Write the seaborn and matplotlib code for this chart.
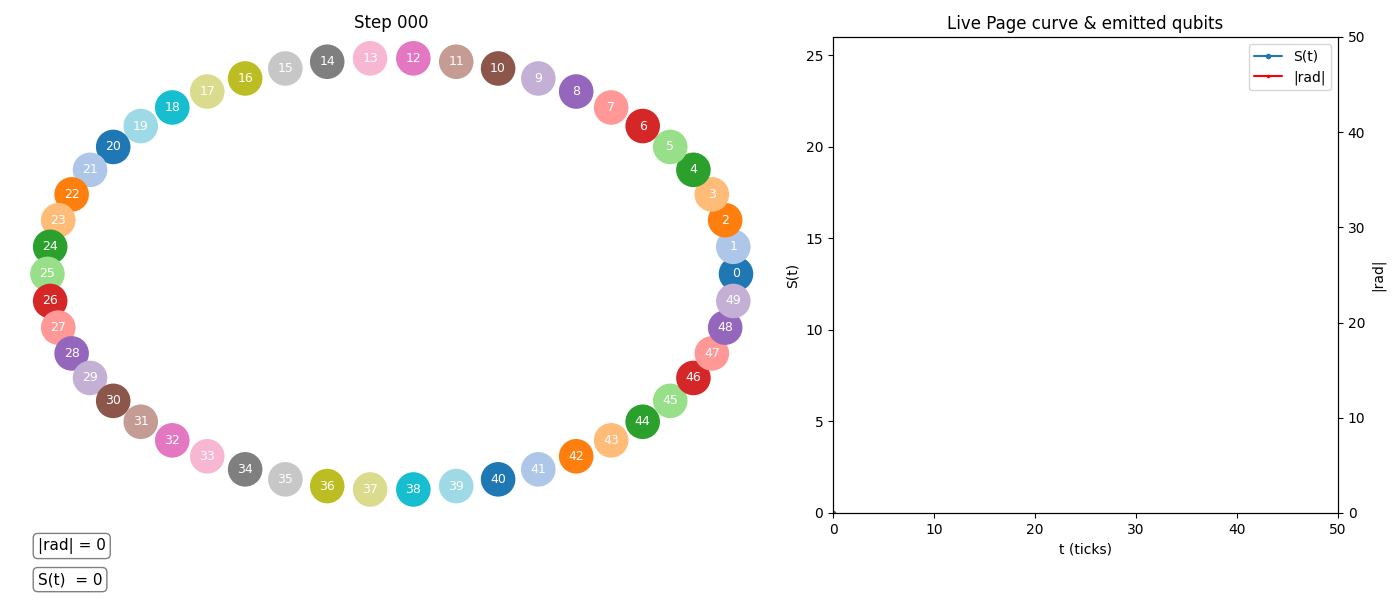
import numpy as np
import pandas as pd
import matplotlib
matplotlib.use("Agg")
import matplotlib.pyplot as plt
import seaborn as sns

# ring of qubits
n_qubits = 50
qubit_ids = list(range(n_qubits))

# live curves at step 0
t_ticks = [0]
entropy = [0]
rad_size = [0]

step = 0
t_max = 50
s_max = 26
rad_max = 50

sns.set_style("ticks", rc={
    "text.color": "black", "axes.labelcolor": "black",
    "xtick.color": "black", "ytick.color": "black",
    "axes.edgecolor": "black",
})
plt.rcParams['font.family'] = ['DejaVu Sans']

fig = plt.figure(figsize=(14, 6), dpi=100)
ax_ring = fig.add_axes([0.0093, 0.1475, 0.541, 0.792])
ax_page = fig.add_axes([0.595, 0.145, 0.3607, 0.7935])

# --- ring of qubits
theta = 2 * np.pi * np.array(qubit_ids) / n_qubits
ring = pd.DataFrame({"x": np.cos(theta), "y": np.sin(theta), "q": qubit_ids})
colors = [plt.cm.tab20(i % 20) for i in qubit_ids]
sns.scatterplot(data=ring, x="x", y="y", hue="q", palette=colors, s=620,
                edgecolor="none", legend=False, ax=ax_ring)
for _, row in ring.iterrows():
    ax_ring.text(row.x, row.y, str(int(row.q)), color="white", fontsize=9,
                 ha="center", va="center")
ax_ring.set_xlim(-1.1, 1.1)
ax_ring.set_ylim(-1.1, 1.1)
ax_ring.set_axis_off()
ax_ring.set_title(f"Step {step:03d}", fontsize=12)

box = dict(boxstyle="round,pad=0.3", facecolor="white", edgecolor="gray")
fig.text(0.027, 0.09, f"|rad| = {rad_size[-1]}", fontsize=11, va="center", bbox=box)
fig.text(0.027, 0.034, f"S(t)  = {entropy[-1]}", fontsize=11, va="center", bbox=box)

# --- Page curve
ln1, = ax_page.plot(t_ticks, entropy, marker=".", color="tab:blue", label="S(t)")
ax_rad = ax_page.twinx()
ln2, = ax_rad.plot(t_ticks, rad_size, marker=".", markersize=3, color="red", label="|rad|")

ax_page.set_xlim(0, t_max)
ax_page.set_ylim(0, s_max)
ax_rad.set_ylim(0, rad_max)
ax_page.set_xlabel("t (ticks)")
ax_page.set_ylabel("S(t)")
ax_rad.set_ylabel("|rad|")
ax_page.set_title("Live Page curve & emitted qubits", fontsize=12)

ax_rad.legend([ln1, ln2], ["S(t)", "|rad|"], loc="upper right")

fig.savefig("out.png", dpi=100)
